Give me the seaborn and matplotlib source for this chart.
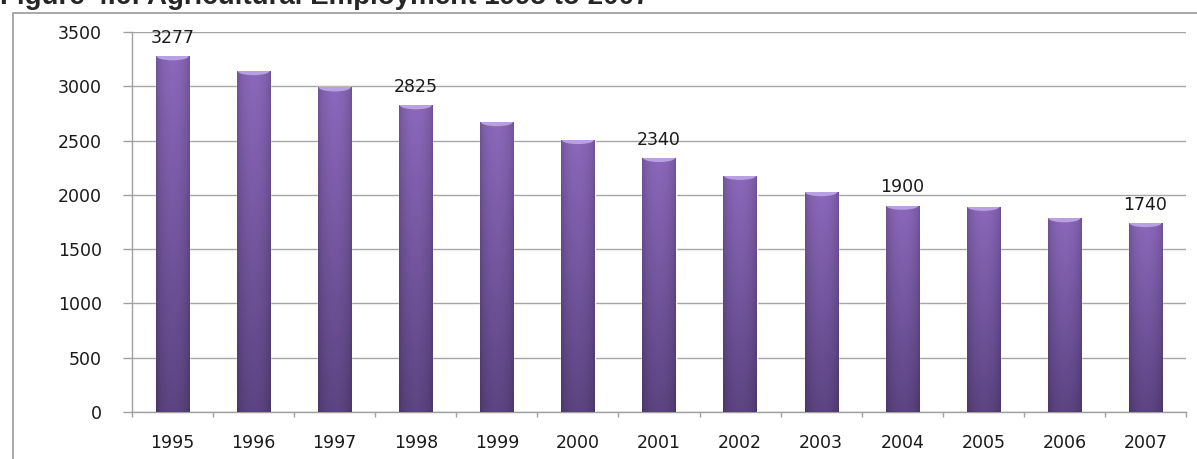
import numpy as np
import matplotlib.pyplot as plt
import seaborn as sns
from matplotlib.patches import Ellipse, Rectangle
from matplotlib.colors import to_rgb

# Agricultural employment (thousands)
years = ['1995', '1996', '1997', '1998', '1999', '2000', '2001',
         '2002', '2003', '2004', '2005', '2006', '2007']
employment = [3277, 3140, 2990, 2825, 2670, 2505, 2340,
              2175, 2025, 1900, 1890, 1785, 1740]
labelled = ['1995', '1998', '2001', '2004', '2007']
y_ticks = [0, 500, 1000, 1500, 2000, 2500, 3000, 3500]

sns.set_style('white')
plt.rcParams['font.family'] = ['DejaVu Sans']

W, H = 1197, 459
fig = plt.figure(figsize=(W / 100, H / 100), dpi=100)
ax = fig.add_axes([132 / W, 1 - 412 / H, (1186 - 132) / W, (412 - 32) / H])

sns.barplot(x=years, y=employment, color='#7558a3', width=0.41,
            saturation=1, ax=ax, zorder=3)

# cylinder-ish shading on each bar
top = np.array(to_rgb('#8b68bb'))
bot = np.array(to_rgb('#5c4482'))
t = np.linspace(1, 0, 200)[:, None, None]
s = np.linspace(0, 1, 40)[None, :, None]
shade = 0.80 + 0.20 * np.sin(np.pi * s) ** 0.6
img = np.clip((bot + (top - bot) * t) * shade, 0, 1)
for p in list(ax.patches):
    x0, w, h = p.get_x(), p.get_width(), p.get_height()
    im = ax.imshow(img, extent=[x0, x0 + w, 0, h], aspect='auto', zorder=3.5)
    im.set_clip_path(p)
    cap = Ellipse((x0 + w / 2, h), w * 0.96, 75, facecolor='#b9a0e3',
                  edgecolor='none', zorder=4)
    ax.add_patch(cap)
    cap.set_clip_path(p)

for i, (yr, v) in enumerate(zip(years, employment)):
    if yr in labelled:
        ax.text(i, v + 85, str(v), ha='center', va='bottom', fontsize=12.5,
                color='#1a1a1a')

ax.set_xlim(-0.5, 12.5)
ax.set_ylim(0, 3500)
ax.set_yticks(y_ticks)
ax.set_axisbelow(True)
ax.yaxis.grid(True, color='#a6a6a6', lw=1)
ax.set_xlabel('')
ax.set_ylabel('')
for side in ['top', 'right']:
    ax.spines[side].set_visible(False)
for side in ['left', 'bottom']:
    ax.spines[side].set_color('#a0a0a0')
    ax.spines[side].set_linewidth(1)

ax.tick_params(axis='y', direction='out', length=6.5, width=1, color='#a0a0a0',
               pad=15, labelsize=12.5, labelcolor='#1a1a1a', left=True)
ax.tick_params(axis='x', which='major', length=0, pad=16, labelsize=12.5,
               labelcolor='#1a1a1a')
ax.set_xticks(np.arange(-0.5, 13, 1), minor=True)
ax.tick_params(axis='x', which='minor', direction='out', length=3.5, width=1,
               color='#a0a0a0', bottom=True)

fig.add_artist(Rectangle((13 / W, -0.1), 1.2, (H - 13) / H + 0.1,
                         transform=fig.transFigure, fill=False,
                         edgecolor='#9a9a9a', lw=1.2))
fig.text(0.0, 1 - 4 / H, 'Figure 4.6: Agricultural Employment 1995 to 2007',
         fontsize=20, fontweight='bold', family='Liberation Sans',
         va='baseline', ha='left')

fig.savefig('out.png', dpi=100)
